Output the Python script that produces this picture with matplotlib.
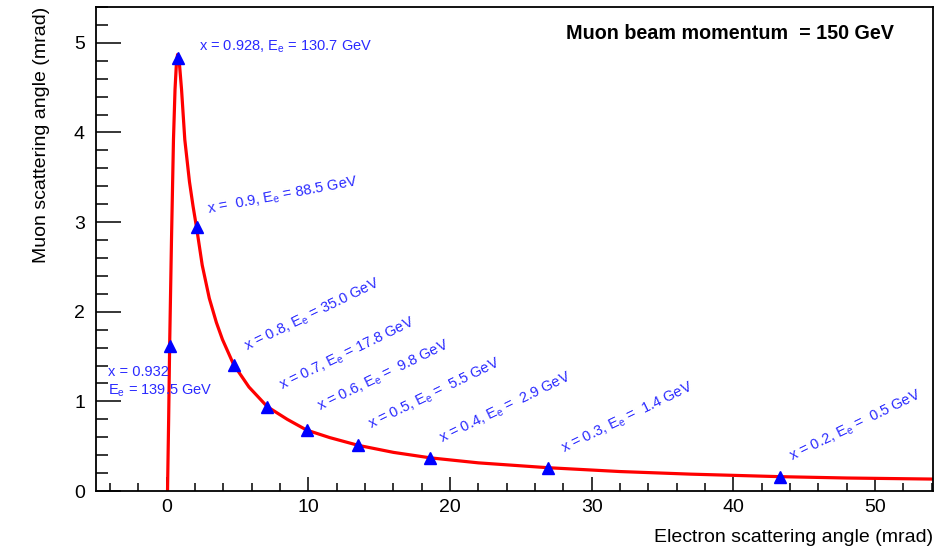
import matplotlib
matplotlib.use("Agg")
import matplotlib.pyplot as plt
from matplotlib.ticker import MultipleLocator

plt.rcParams['font.family'] = ['Liberation Sans', 'DejaVu Sans']
plt.rcParams['mathtext.fontset'] = 'custom'
plt.rcParams['mathtext.rm'] = 'Liberation Sans'
plt.rcParams['mathtext.it'] = 'Liberation Sans'

# red curve (mrad)
curve_theta_e = [0.05, 0.13, 0.20, 0.33, 0.47, 0.58, 0.68, 0.76,
                 0.90, 1.04, 1.27, 1.60, 1.85, 2.10, 2.50, 3.00, 3.50, 3.93,
                 4.72, 5.80, 7.10, 8.50, 9.87, 11.5, 13.5, 16.0, 18.6, 22.0,
                 26.9, 32.0, 37.0, 43.3, 48.0, 54.1]
curve_theta_mu = [0.0, 0.80, 1.62, 2.80, 3.92, 4.48, 4.78, 4.87,
                  4.75, 4.48, 3.92, 3.45, 3.18, 2.94, 2.52, 2.15, 1.88, 1.69,
                  1.41, 1.16, 0.94, 0.80, 0.68, 0.596, 0.51, 0.431, 0.37, 0.314,
                  0.26, 0.217, 0.188, 0.16, 0.145, 0.133]

# blue markers
marker_theta_e = [0.20, 0.78, 2.1, 4.72, 7.1, 9.87, 13.5, 18.6, 26.9, 43.3]
marker_theta_mu = [1.62, 4.83, 2.94, 1.41, 0.94, 0.68, 0.51, 0.37, 0.26, 0.16]
marker_labels = ["x = 0.932\nE$_{e}$ = 139.5 GeV",
                 "x = 0.928, E$_{e}$ = 130.7 GeV",
                 "x =  0.9, E$_{e}$ = 88.5 GeV",
                 "x = 0.8, E$_{e}$ = 35.0 GeV",
                 "x = 0.7, E$_{e}$ = 17.8 GeV",
                 "x = 0.6, E$_{e}$ =  9.8 GeV",
                 "x = 0.5, E$_{e}$ =  5.5 GeV",
                 "x = 0.4, E$_{e}$ =  2.9 GeV",
                 "x = 0.3, E$_{e}$ =  1.4 GeV",
                 "x = 0.2, E$_{e}$ =  0.5 GeV"]

# label layout: offset from marker (pixels, +y is down), rotation, vertical anchor
label_layout = [(-62, 19, 0, 'top'),
                (21, -11, 0, 'center'),
                (12, -14, 10.6, 'baseline'),
                (13, -14, 26, 'baseline'),
                (15, -17, 26, 'baseline'),
                (13, -19, 26, 'baseline'),
                (13, -16, 26, 'baseline'),
                (12, -15, 26, 'baseline'),
                (16, -15, 26, 'baseline'),
                (12, -16, 26, 'baseline')]

fig = plt.figure(figsize=(9.4, 5.49), dpi=100)
ax = fig.add_axes([96 / 940, 58 / 549, (933 - 96) / 940, (491 - 7) / 549])

ax.plot(curve_theta_e, curve_theta_mu, color='#ff0000', lw=2.3, zorder=2)
ax.plot(marker_theta_e, marker_theta_mu, linestyle='none', marker='^',
        markersize=9, color='#0000ff', zorder=3)

for xe, ym, lab, (dx, dy, rot, va) in zip(marker_theta_e, marker_theta_mu,
                                         marker_labels, label_layout):
    ax.annotate(lab, xy=(xe, ym), xytext=(dx * 0.72, -dy * 0.72),
                textcoords='offset points', ha='left', va=va,
                rotation=rot, rotation_mode='anchor',
                fontsize=10.5, color='#2a2aff', linespacing=1.3)

ax.text(0.953, 0.945, "Muon beam momentum  = 150 GeV", transform=ax.transAxes,
        ha='right', va='center', fontsize=14.2, fontweight='bold')

ax.set_xlim(-5, 54.1)
ax.set_ylim(0, 5.4)
ax.xaxis.set_major_locator(MultipleLocator(10))
ax.xaxis.set_minor_locator(MultipleLocator(2))
ax.yaxis.set_major_locator(MultipleLocator(1))
ax.yaxis.set_minor_locator(MultipleLocator(0.2))
ax.tick_params(axis='both', which='both', direction='in', top=False, right=False,
               width=1.1, labelsize=14)
ax.tick_params(axis='y', which='major', length=18, pad=8)
ax.tick_params(axis='y', which='minor', length=8.5)
ax.tick_params(axis='x', which='major', length=10, pad=6)
ax.tick_params(axis='x', which='minor', length=5.5)
for s in ax.spines.values():
    s.set_linewidth(1.3)

ax.set_xlabel("Electron scattering angle (mrad)", fontsize=14, loc='right', labelpad=9)
ax.set_ylabel("Muon scattering angle (mrad)", fontsize=14, loc='top', labelpad=17)

fig.savefig("out.png", dpi=100)
